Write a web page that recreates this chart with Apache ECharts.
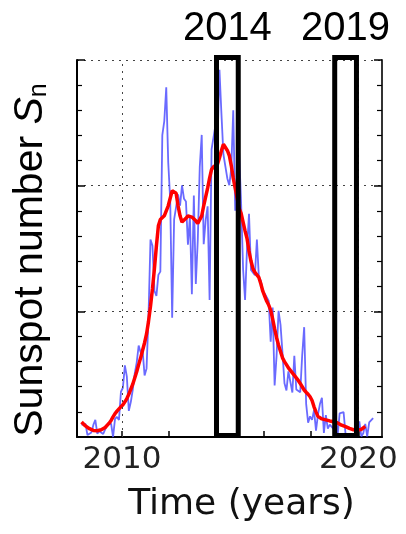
<!DOCTYPE html>
<html><head><meta charset="utf-8">
<script src="https://cdn.jsdelivr.net/npm/echarts@6/dist/echarts.min.js"></script>
<style>html,body{margin:0;padding:0;background:#fff}#c{width:406px;height:534px}</style>
</head><body><div id="c"></div>
<script>
// first month shown: April 2008 (monthly values, plotted at mid-month)
const startYear = 2008, startMonth = 4;

// monthly mean sunspot number (blue), Apr 2008 .. Aug 2020
const monthlySn = [
  4.8, 4.8, 5.2, 0.8, 0.5, 1.8, 4.8, 6.8, 1.3,
  2.3, 2.3, 1.2, 1.3, 4.8, 4.8, 5.3, 0.0, 7.2, 8.0, 6.8, 18.0,
  19.6, 28.5, 24.0, 10.4, 13.9, 18.8, 25.2, 29.6, 36.4, 33.6, 34.4, 24.5,
  27.3, 48.3, 78.6, 76.1, 58.2, 56.1, 64.5, 65.8, 120.1, 125.7, 139.1, 109.3,
  94.4, 47.5, 86.6, 85.9, 96.5, 92.0, 100.1, 94.8, 93.7, 76.5, 87.6, 56.8,
  96.1, 60.9, 78.3, 107.3, 120.2, 76.7, 86.2, 91.8, 54.5, 114.4, 113.9, 124.2,
  117.0, 146.1, 128.7, 112.5, 112.5, 102.9, 100.2, 106.9, 130.0, 90.0, 103.6, 112.9,
  93.0, 66.7, 54.5, 75.3, 88.8, 66.5, 65.8, 64.4, 78.6, 63.6, 62.2, 58.0,
  57.0, 56.4, 54.1, 37.9, 51.5, 20.5, 32.4, 50.2, 44.6, 33.4, 21.4, 18.5,
  26.1, 26.4, 17.7, 32.3, 18.9, 19.2, 17.8, 32.6, 43.7, 13.2, 5.7, 8.2,
  6.8, 10.7, 2.5, 8.9, 13.1, 15.6, 1.6, 8.7, 3.3, 4.9, 4.9, 3.1,
  7.7, 0.8, 9.4, 9.1, 9.9, 1.2, 0.9, 0.5, 1.1, 0.4, 0.5, 1.5,
  6.2, 0.2, 1.5, 5.2, 0.2, 5.8, 6.1, 7.5
];

// 13-month smoothed sunspot number (red), Apr 2008 .. Apr 2020
const smoothedSn = [
  6.0, 5.2, 4.4, 3.8, 3.3, 2.9, 2.6, 2.5, 2.5,
  2.6, 2.9, 3.3, 3.8, 4.5, 5.5, 6.6, 8.0, 9.3, 10.3, 11.2, 12.0,
  12.8, 14.0, 15.3, 17.0, 19.0, 21.0, 23.5, 26.0, 28.8, 31.5, 34.5, 37.5,
  41, 46, 52, 59, 67, 76, 84, 86.5, 87, 88, 88.5, 92,
  95, 98, 98.5, 97, 92, 88, 85.5, 85.5, 87, 88, 88, 87.5,
  87, 86, 85, 85.5, 88, 92, 95.5, 99, 103, 106.5, 107.5, 108,
  108.5, 111, 114, 116.5, 116, 114, 112, 108, 103, 99, 95, 91,
  89, 85.5, 82, 79, 74, 70, 67, 65.5, 64.5, 63.5, 61, 58,
  56, 54, 52.5, 50.5, 47, 43, 39.5, 36.5, 34, 31.5, 30, 28.8,
  27.5, 26.5, 25.5, 24.5, 23.5, 22.5, 21.3, 20, 18.7, 17.8, 17, 16,
  14.5, 12, 10, 8.2, 7.6, 7.2, 7.0, 6.8, 6.6, 6.4, 6.2, 6.1,
  6.0, 5.6, 5.0, 4.7, 4.4, 4.1, 3.8, 3.4, 3.1, 2.9, 2.8, 2.8,
  2.9, 3.0, 3.5, 4.2
];

// highlighted windows
const boxStarts = [2014, 2019];
const boxEnds = [2014.92, 2019.92];
const boxLabels = ['2014', '2019'];

// axis ticks / labels
const xTicks = [2010, 2012, 2014, 2016, 2018, 2020];
const xLabels = [2010, 2020];
const xGridLines = [2010, 2020];
const yMin = 0, yMax = 150, yStep = 50;

const toXY = arr => arr.map((v, i) => [startYear + (startMonth - 1 + i + 0.5) / 12, v]);

const chart = echarts.init(document.getElementById('c'), null, {renderer: 'canvas'});

const yAxisBase = {
  type: 'value', min: yMin, max: yMax, interval: yStep,
  axisLine: {show: true, lineStyle: {color: '#000', width: 2}},
  axisTick: {show: true, inside: true, length: 8, lineStyle: {color: '#000', width: 1.5}},
  minorTick: {show: true, splitNumber: 5, length: 5, lineStyle: {color: '#000', width: 1.2}},
  axisLabel: {show: false}
};

chart.setOption({
  animation: false,
  backgroundColor: '#fff',
  grid: {left: 77, right: 24, top: 60, bottom: 97},
  xAxis: {
    type: 'value', min: 2008.1, max: 2021,
    axisLine: {show: true, onZero: false, lineStyle: {color: '#000', width: 2}},
    axisTick: {show: true, inside: true, length: 6, customValues: xTicks, lineStyle: {color: '#000', width: 1.5}},
    axisLabel: {show: true, customValues: xLabels, fontFamily: 'DejaVu Sans', fontSize: 31, color: '#222', margin: 7,
      formatter: v => String(Math.round(v))},
    splitLine: {show: false}
  },
  yAxis: [
    Object.assign({}, yAxisBase, {position: 'left',
      splitLine: {show: true, lineStyle: {color: '#444', type: [2, 5], width: 1}}}),
    Object.assign({}, yAxisBase, {position: 'right', splitLine: {show: false},
      axisLine: {show: true, lineStyle: {color: '#333', width: 2}}})
  ],
  graphic: [
    {type: 'text', x: 31, y: 260, rotation: Math.PI / 2,
      style: {text: '{a|Sunspot number }{b|S}{c|n}', align: 'center', verticalAlign: 'middle', fill: '#000',
        rich: {
          a: {fontSize: 41, fontFamily: 'Liberation Sans', fill: '#000'},
          b: {fontSize: 41, fontFamily: 'Liberation Sans', fontStyle: 'italic', fill: '#000'},
          c: {fontSize: 25, fontFamily: 'Liberation Sans', verticalAlign: 'bottom', fill: '#000'}
        }}},
    {type: 'text', x: 241.5, y: 504.5,
      style: {text: 'Time (years)', fontSize: 36, fontFamily: 'DejaVu Sans', align: 'center', verticalAlign: 'middle', fill: '#111'}}
  ],
  series: [
    {
      type: 'line', data: toXY(monthlySn), showSymbol: false, z: 2,
      lineStyle: {color: 'rgba(80,80,255,0.85)', width: 1.8},
      markLine: {silent: true, symbol: 'none', label: {show: false}, animation: false,
        lineStyle: {color: '#444', type: [2, 5], width: 1},
        data: xGridLines.map(v => ({xAxis: v}))}
    },
    {
      type: 'line', data: toXY(smoothedSn), showSymbol: false, z: 3,
      lineStyle: {color: '#ff0000', width: 3.5}
    },
    {
      type: 'custom', z: 5, clip: false,
      data: boxStarts.map((s, i) => [s, boxEnds[i]]),
      encode: {x: [0, 1]},
      renderItem: (params, api) => {
        const pTop = api.coord([api.value(0), yMax]);
        const pBot = api.coord([api.value(1), yMin]);
        const l = pTop[0], r = pBot[0], t = pTop[1] - 2.5, b = pBot[1] - 1.5;
        return {type: 'group', children: [
          {type: 'rect', shape: {x: l, y: t, width: r - l, height: b - t},
            style: {fill: 'none', stroke: '#000', lineWidth: 5}},
          {type: 'text', style: {text: boxLabels[params.dataIndex], x: (l + r) / 2, y: t - 29,
            align: 'center', verticalAlign: 'middle', fontSize: 40, fontFamily: 'Liberation Sans', fill: '#000'}}
        ]};
      }
    }
  ]
});
</script></body></html>
